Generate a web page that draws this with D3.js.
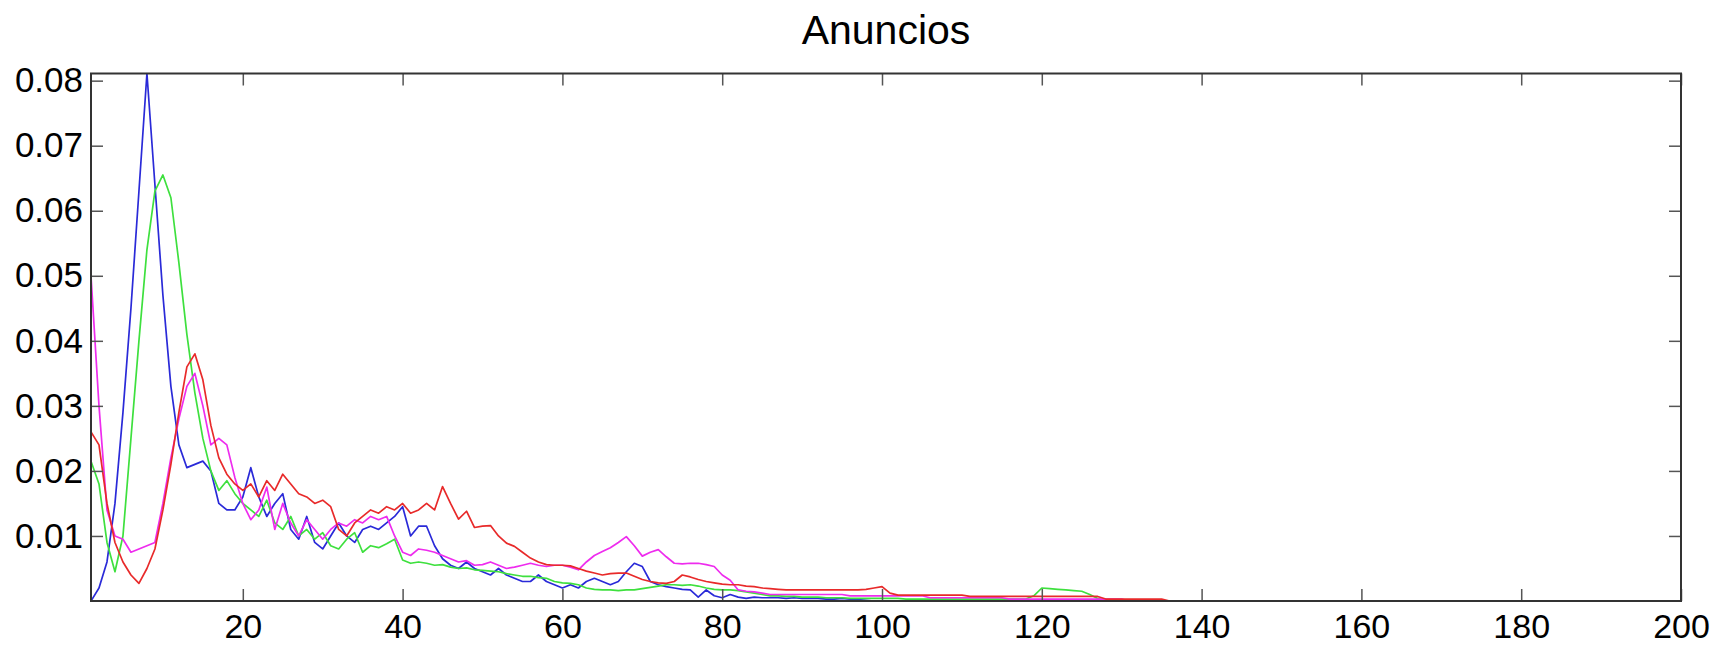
<!DOCTYPE html>
<html>
<head>
<meta charset="utf-8">
<script src="https://cdn.jsdelivr.net/npm/d3@7"></script>
<style>
html,body{margin:0;padding:0;background:#fff;}
svg{display:block;}
text{font-family:"Liberation Sans",Arial,Helvetica,sans-serif;fill:#000;}
</style>
</head>
<body>
<svg id="chart" width="1712" height="646"></svg>
<script>
const title = "Anuncios";
const xTicks = [20, 40, 60, 80, 100, 120, 140, 160, 180, 200];
const yTicks = [0.01, 0.02, 0.03, 0.04, 0.05, 0.06, 0.07, 0.08];
const yTickLabels = ["0.01", "0.02", "0.03", "0.04", "0.05", "0.06", "0.07", "0.08"];
const xs = d3.range(1, 201);

const blue = [
0,0.002,0.006,0.015,0.029,0.045,0.063,0.0811,0.064,0.047,
0.033,0.024,0.0205,0.021,0.0215,0.020,0.015,0.014,0.014,0.016,
0.0205,0.016,0.013,0.015,0.0165,0.011,0.0095,0.013,0.009,0.008,
0.010,0.012,0.010,0.009,0.011,0.0115,0.011,0.012,0.013,0.0145,
0.010,0.0115,0.0115,0.0085,0.0065,0.0055,0.005,0.006,0.005,0.0045,
0.004,0.005,0.004,0.0035,0.003,0.003,0.004,0.003,0.0025,0.002,
0.0025,0.002,0.003,0.0035,0.003,0.0025,0.003,0.0045,0.0058,0.0053,
0.003,0.0025,0.0022,0.002,0.0018,0.0017,0.0006,0.0017,0.0008,0.0005,
0.001,0.0006,0.0004,0.0006,0.0005,0.0005,0.0005,0.0004,0.0005,0.0004,
0.0004,0.0004,0.0003,0.0003,0.0004,0.0003,0.0002,0.0001,0,0,
0,0,0,0,0,0,0,0,0,0, 0,0,0,0,0,0,0,0,0,0,
0,0,0,0,0,0,0,0,0,0, 0,0,0,0,0,0,0,0,0,0,
0,0,0,0,0,0,0,0,0,0, 0,0,0,0,0,0,0,0,0,0,
0,0,0,0,0,0,0,0,0,0, 0,0,0,0,0,0,0,0,0,0,
0,0,0,0,0,0,0,0,0,0, 0,0,0,0,0,0,0,0,0,0
];

const green = [
0.0215,0.018,0.009,0.0045,0.010,0.025,0.040,0.054,0.063,0.0655,
0.062,0.052,0.041,0.032,0.025,0.020,0.017,0.0185,0.0165,0.015,
0.014,0.013,0.0155,0.012,0.011,0.013,0.010,0.011,0.0095,0.0105,
0.0085,0.008,0.0095,0.0105,0.0075,0.0085,0.0082,0.0088,0.0095,0.0063,
0.0058,0.006,0.0058,0.0055,0.0056,0.0052,0.005,0.0051,0.0048,0.0047,
0.0046,0.0045,0.0042,0.004,0.0038,0.0038,0.0036,0.0035,0.003,0.0028,
0.0027,0.0025,0.002,0.0018,0.0017,0.0017,0.0016,0.0017,0.0017,0.0019,
0.0021,0.0023,0.0025,0.0025,0.0024,0.0025,0.0023,0.002,0.0018,0.0017,
0.0017,0.0016,0.0014,0.0012,0.001,0.0008,0.0008,0.0007,0.0007,0.0006,
0.0006,0.0006,0.0005,0.0005,0.0005,0.0004,0.0004,0.0004,0.0004,0.0004,
0.0004,0.0004,0.0003,0.0003,0.0003,0.0003,0.0003,0.0003,0.0003,0.0003,
0.0003,0.0003,0.0003,0.0003,0.0003,0.0003,0.0003,0.0003,0.0008,0.002,
0.0019,0.0018,0.0017,0.0016,0.0015,0.001,0.0004,0,0,0,
0,0,0,0,0,0,0,0,0,0, 0,0,0,0,0,0,0,0,0,0,
0,0,0,0,0,0,0,0,0,0, 0,0,0,0,0,0,0,0,0,0,
0,0,0,0,0,0,0,0,0,0, 0,0,0,0,0,0,0,0,0,0,
0,0,0,0,0,0,0,0,0,0
];

const magenta = [
0.050,0.030,0.014,0.010,0.0095,0.0075,0.008,0.0085,0.009,0.015,
0.022,0.028,0.033,0.035,0.030,0.024,0.025,0.024,0.019,0.015,
0.0125,0.014,0.0175,0.011,0.015,0.012,0.010,0.0125,0.011,0.0095,
0.011,0.012,0.0115,0.0125,0.012,0.013,0.0125,0.013,0.010,0.0075,
0.007,0.008,0.0078,0.0075,0.007,0.0065,0.006,0.0062,0.0055,0.0056,
0.006,0.0055,0.005,0.0052,0.0055,0.0058,0.0055,0.0053,0.0055,0.0055,
0.0052,0.0048,0.006,0.007,0.0076,0.0082,0.009,0.0099,0.0085,0.0069,
0.0075,0.0079,0.0068,0.0058,0.0057,0.0058,0.0058,0.0056,0.0053,0.004,
0.0032,0.0017,0.0015,0.0014,0.0012,0.001,0.001,0.001,0.001,0.001,
0.001,0.001,0.001,0.001,0.001,0.0008,0.0008,0.0008,0.0008,0.0008,
0.0008,0.0008,0.0008,0.0008,0.0008,0.0005,0.0005,0.0005,0.0005,0.0005,
0.0005,0.0005,0.0005,0.0005,0.0005,0.0003,0.0003,0.0003,0.0003,0.0003,
0.0003,0.0003,0.0003,0.0003,0.0003,0.0003,0.0003,0.0003,0.0003,0.0003,
0,0,0,0,0,0,0,0,0,0, 0,0,0,0,0,0,0,0,0,0,
0,0,0,0,0,0,0,0,0,0, 0,0,0,0,0,0,0,0,0,0,
0,0,0,0,0,0,0,0,0,0, 0,0,0,0,0,0,0,0,0,0,
0,0,0,0,0,0,0,0,0,0
];

const red = [
0.026,0.024,0.015,0.009,0.006,0.004,0.0027,0.005,0.008,0.014,
0.021,0.029,0.036,0.038,0.034,0.027,0.022,0.0195,0.018,0.017,
0.018,0.016,0.0185,0.017,0.0195,0.018,0.0165,0.016,0.015,0.0155,
0.0145,0.011,0.010,0.012,0.013,0.014,0.0135,0.0145,0.014,0.015,
0.0135,0.014,0.015,0.014,0.0176,0.015,0.0126,0.0138,0.0113,0.0115,
0.0116,0.010,0.0089,0.0084,0.0075,0.0066,0.006,0.0056,0.0055,0.0055,
0.0054,0.005,0.0046,0.0043,0.004,0.0042,0.0043,0.0043,0.0038,0.0033,
0.003,0.0028,0.0027,0.003,0.004,0.0037,0.0033,0.003,0.0028,0.0026,
0.0025,0.0025,0.0023,0.0022,0.002,0.0019,0.0018,0.0017,0.0017,0.0017,
0.0017,0.0017,0.0017,0.0017,0.0017,0.0017,0.0017,0.0018,0.002,0.0022,
0.0012,0.0009,0.0009,0.0009,0.0009,0.0009,0.0009,0.0009,0.0009,0.0009,
0.0007,0.0007,0.0007,0.0007,0.0007,0.0007,0.0007,0.0007,0.0007,0.0007,
0.0007,0.0007,0.0007,0.0007,0.0007,0.0007,0.0007,0.0003,0.0003,0.0003,
0.0003,0.0003,0.0003,0.0003,0.0003,0,0,0,0,0,
0,0,0,0,0,0,0,0,0,0, 0,0,0,0,0,0,0,0,0,0,
0,0,0,0,0,0,0,0,0,0, 0,0,0,0,0,0,0,0,0,0,
0,0,0,0,0,0,0,0,0,0, 0,0,0,0,0,0,0,0,0,0
];

const seriesNames = ["blue", "green", "magenta", "red"];
const seriesValues = [blue, green, magenta, red];
const seriesColors = ["#2a2ad8", "#3ee03e", "#ee2cee", "#e82a2a"];

const svg = d3.select("#chart");
const L = 91, R = 1681, T = 73.5, B = 601;

const x = d3.scaleLinear().domain([1, 200]).range([L, R]);
const y = d3.scaleLinear().domain([0, 0.0811]).range([B, T]);

svg.append("rect").attr("width", 1712).attr("height", 646).attr("fill", "#fff");

svg.append("defs").append("clipPath").attr("id", "clip")
  .append("rect").attr("x", L).attr("y", T - 1).attr("width", R - L).attr("height", B - T + 1);

const line = d3.line().x((d, i) => x(xs[i])).y(d => y(d));

const g = svg.append("g").attr("clip-path", "url(#clip)");
seriesValues.forEach((vals, k) => {
  g.append("path")
    .datum(vals)
    .attr("d", line)
    .attr("fill", "none")
    .attr("stroke", seriesColors[k])
    .attr("stroke-width", 1.7)
    .attr("stroke-linejoin", "round");
});

const tickLen = 12;

const ax = svg.append("g").attr("transform", `translate(0,${B})`)
  .call(d3.axisBottom(x).tickValues(xTicks).tickSizeInner(-tickLen).tickSizeOuter(0).tickPadding(13).tickFormat(d3.format("d")));
const axT = svg.append("g").attr("transform", `translate(0,${T})`)
  .call(d3.axisTop(x).tickValues(xTicks).tickSizeInner(-tickLen).tickSizeOuter(0).tickFormat(""));
const ay = svg.append("g").attr("transform", `translate(${L},0)`)
  .call(d3.axisLeft(y).tickValues(yTicks).tickSizeInner(-tickLen).tickSizeOuter(0).tickPadding(8).tickFormat((d, i) => yTickLabels[i]));
const ayR = svg.append("g").attr("transform", `translate(${R},0)`)
  .call(d3.axisRight(y).tickValues(yTicks).tickSizeInner(-tickLen).tickSizeOuter(0).tickFormat(""));

[ax, axT, ay, ayR].forEach(a => {
  a.select(".domain").remove();
  a.selectAll(".tick line").attr("stroke", "#555").attr("stroke-width", 1.5);
  a.selectAll(".tick text").attr("fill", "#000")
    .style("font-family", "'Liberation Sans', Arial, Helvetica, sans-serif");
});
ax.selectAll(".tick text").attr("font-size", "34px");
ay.selectAll(".tick text").attr("font-size", "35px");

svg.append("rect")
  .attr("x", L).attr("y", T).attr("width", R - L).attr("height", B - T)
  .attr("fill", "none").attr("stroke", "#333").attr("stroke-width", 2);

svg.append("text")
  .attr("x", (L + R) / 2).attr("y", 44)
  .attr("text-anchor", "middle")
  .attr("font-size", "41px")
  .text(title);
</script>
</body>
</html>
